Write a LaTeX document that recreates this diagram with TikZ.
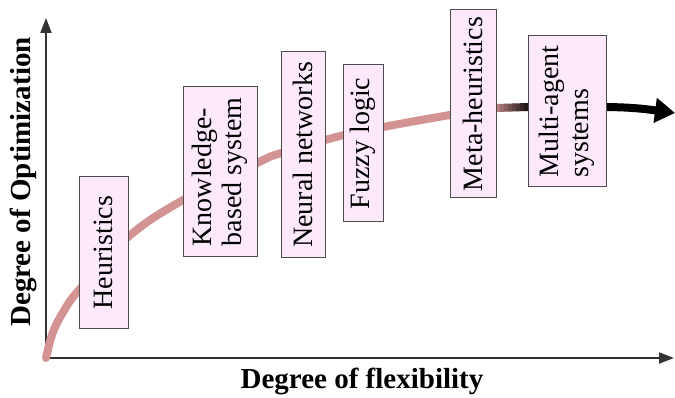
\documentclass[tikz,border=0pt]{standalone}
\usepackage{fontspec}
\setmainfont{Liberation Serif}
\usetikzlibrary{arrows.meta}
\definecolor{boxfill}{HTML}{FCEAFB}
\definecolor{curvepink}{HTML}{D39393}
\tikzset{
  methodbox/.style={draw=black!70, line width=1pt, fill=boxfill, rotate=90, align=left,
    inner sep=2pt, font=\fontsize{28}{30}\selectfont},
  axislabel/.style={font=\fontsize{29}{30}\selectfont\bfseries},
  axisline/.style={line width=2pt, draw=black!80},
}
\begin{document}
\begin{tikzpicture}[x=1pt,y=-1pt]
  \useasboundingbox (0,0) rectangle (675,398);
  % axes
  \coordinate (origin) at (46,358);
  \coordinate (ytip) at (46,18);
  \coordinate (xtip) at (674,358);
  \draw[axisline,-{Triangle[length=15pt,width=11pt]}] (origin) -- (ytip);
  \draw[axisline,-{Triangle[length=15pt,width=11pt]}] (origin) -- (xtip);
  \node[axislabel, rotate=90] (ylabel) at (23,182) {Degree of Optimization};
  \node[axislabel] (xlabel) at (362,381) {Degree of flexibility};
  % trend curve
  \draw[curvepink, line width=8pt, line cap=round] plot[smooth, tension=0.6] coordinates {
    (46,358) (53,332) (65,309) (79,290) (128,237) (183,200) (257,163) (281,153)
    (340,136) (383,127) (450,115) (496,108)};
  % fading into black between the last boxes
  \foreach \i in {0,...,7} {
    \pgfmathsetmacro{\shade}{85-10*\i}
    \draw[curvepink!\shade!black, line width=8pt]
      ({496+4*\i},{108-0.125*\i}) -- ({500.5+4*\i},{108-0.125*(\i+1)});
  }
  \coordinate (arrowstart) at (600,107);
  \coordinate (arrowtip) at (675,113);
  \draw[black, line width=8pt, -{Triangle[length=20pt,width=24pt]}]
    (arrowstart) .. controls (630,107) and (645,109) .. (arrowtip);
  % method boxes
  \node[methodbox, minimum width=151pt, minimum height=49pt] (heur) at (103.5,252.5) {Heuristics};
  \node[methodbox, minimum width=170pt, minimum height=74pt] (kbs) at (220,172) {Knowledge-\\based system};
  \node[methodbox, minimum width=206pt, minimum height=44pt] (neural) at (303,155) {Neural networks};
  \node[methodbox, minimum width=157pt, minimum height=40pt] (fuzzy) at (363,143.5) {Fuzzy logic};
  \node[methodbox, minimum width=188pt, minimum height=46pt] (meta) at (473,104) {Meta-heuristics};
  \node[methodbox, minimum width=151pt, minimum height=78pt] (multi) at (567,111.5) {Multi-agent\\systems};
\end{tikzpicture}
\end{document}
